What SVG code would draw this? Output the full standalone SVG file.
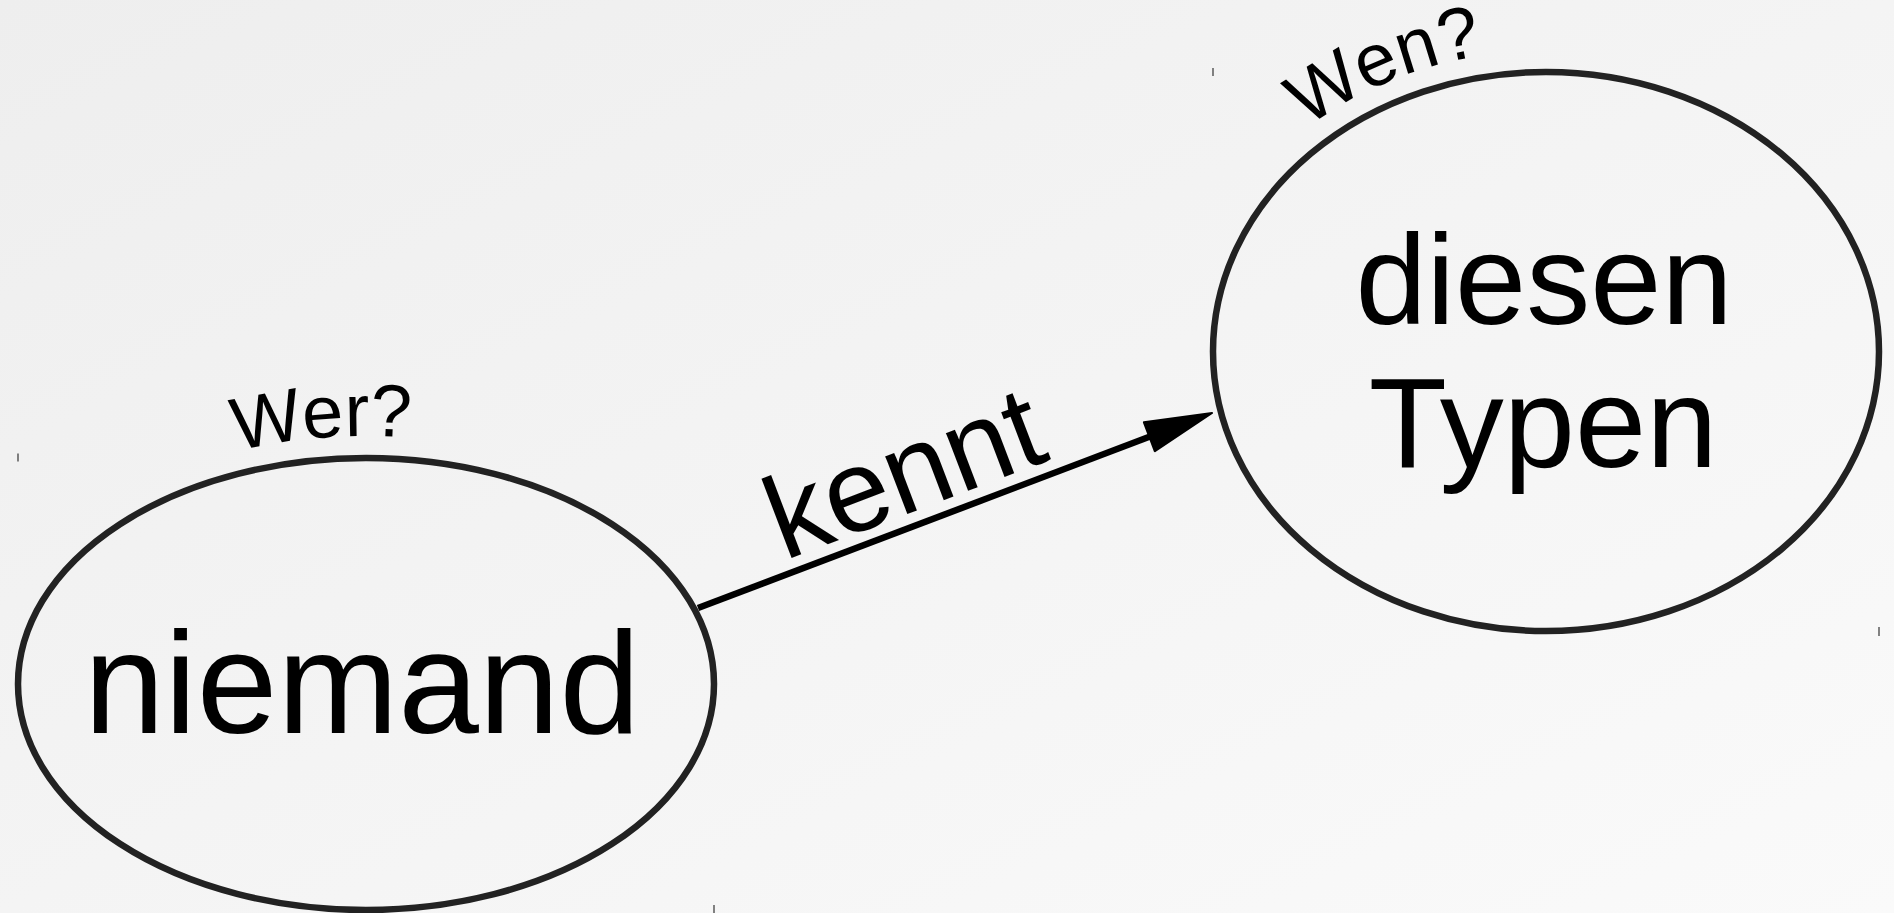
<svg xmlns="http://www.w3.org/2000/svg" xmlns:xlink="http://www.w3.org/1999/xlink" width="1894" height="913" viewBox="0 0 1894 913">
  <defs>
    <linearGradient id="bg" x1="0" y1="0" x2="1" y2="1">
      <stop offset="0" stop-color="#eeeeee"/>
      <stop offset="1" stop-color="#fafafa"/>
    </linearGradient>
    <marker id="arrow" markerUnits="userSpaceOnUse" viewBox="-3 -19 74 38" refX="0" refY="0" markerWidth="74" markerHeight="38" orient="auto">
      <path d="M0,-15.5 L67,0 L0,15.5 Z" fill="#000" stroke="#000" stroke-width="2" stroke-linejoin="round"/>
    </marker>
    <path id="arcLeft" d="M -4 684 A 370 248 0 0 1 736 684"/>
    <path id="arcRight" d="M 1190 351.5 A 356 301 0 0 1 1902 351.5"/>
    <style>
      .node { fill: none; stroke: #222222; stroke-width: 6.5; }
      .label { font-family: "Liberation Sans", Arial, sans-serif; fill: #000; text-anchor: middle; }
      .role { font-family: "Liberation Sans", Arial, sans-serif; fill: #000; font-size: 74px; text-anchor: middle; }
      .edge { stroke: #000; stroke-width: 6.5; fill: none; }
      .tick { stroke: #333333; stroke-width: 1.2; }
    </style>
  </defs>

  <rect x="0" y="0" width="1894" height="913" fill="url(#bg)"/>

  <g id="ticks">
    <line class="tick" x1="18" y1="453.5" x2="18" y2="461.5"/>
    <line class="tick" x1="714" y1="905" x2="714" y2="913"/>
    <line class="tick" x1="1213" y1="68" x2="1213" y2="76"/>
    <line class="tick" x1="1879" y1="627" x2="1879" y2="636"/>
  </g>

  <g id="connectors">
    <line class="edge" x1="698" y1="608" x2="1149.4" y2="436.8" marker-end="url(#arrow)"/>
    <text class="label" font-size="117" x="918" y="510" transform="rotate(-20.8 918 510)">kennt</text>
  </g>

  <g id="node-niemand">
    <ellipse class="node" cx="366" cy="684" rx="348" ry="226"/>
    <text class="label" font-size="145" x="362" y="733">niemand</text>
    <text class="role"><textPath xlink:href="#arcLeft" href="#arcLeft" startOffset="45.6%">Wer?</textPath></text>
  </g>

  <g id="node-diesen-typen">
    <ellipse class="node" cx="1546" cy="351.5" rx="333" ry="279.5"/>
    <text class="label" font-size="128" x="1544" y="324">diesen</text>
    <text class="label" font-size="128" x="1543" y="467">Typen</text>
    <text class="role" font-size="71"><textPath xlink:href="#arcRight" href="#arcRight" startOffset="34.6%">Wen?</textPath></text>
  </g>
</svg>
